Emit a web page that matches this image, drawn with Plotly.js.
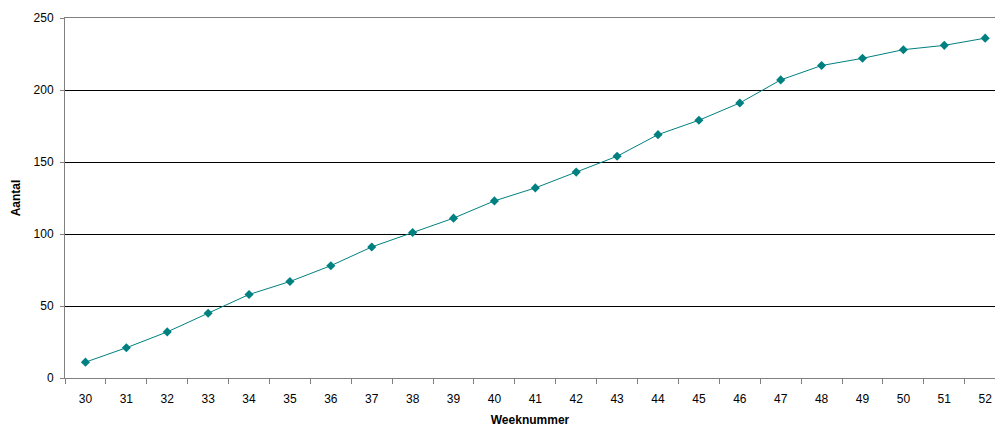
<!DOCTYPE html>
<html>
<head>
<meta charset="utf-8">
<script src="https://cdn.plot.ly/plotly-3.0.1.min.js"></script>
<style>html,body{margin:0;padding:0;background:#fff;overflow:hidden}</style>
</head>
<body>
<div id="chart" style="width:995px;height:440px"></div>
<script>
const weeks = ["30","31","32","33","34","35","36","37","38","39","40","41","42","43","44","45","46","47","48","49","50","51","52"];
const aantal = [11,21,32,45,58,67,78,91,101,111,123,132,143,154,169,179,191,207,217,222,228,231,236];
const yTicks = [0,50,100,150,200,250];

const trace = {
  x: weeks,
  y: aantal,
  type: 'scatter',
  mode: 'lines+markers',
  line: {color: '#008080', width: 1},
  marker: {symbol: 'diamond', size: 7, color: '#008080'},
  hoverinfo: 'x+y'
};

const layout = {
  width: 995,
  height: 440,
  margin: {l: 65, r: 0, t: 18, b: 62, pad: 0},
  paper_bgcolor: '#ffffff',
  plot_bgcolor: '#ffffff',
  showlegend: false,
  font: {family: 'Liberation Sans, Arial, sans-serif', size: 12, color: '#000'},
  xaxis: {
    type: 'category',
    range: [-0.5, 22.24],
    tickson: 'boundaries',
    ticks: 'outside',
    ticklen: 5,
    tickcolor: '#808080',
    ticklabelstandoff: 10,
    showline: true,
    mirror: true,
    linecolor: '#808080',
    linewidth: 1,
    showgrid: false,
    zeroline: false,
    tickfont: {size: 12},
    title: {text: '<b>Weeknummer</b>', font: {size: 12}, standoff: 10}
  },
  yaxis: {
    range: [0, 250],
    tickvals: yTicks,
    ticks: 'outside',
    ticklen: 4,
    tickcolor: '#808080',
    ticklabelstandoff: 4,
    showline: true,
    linecolor: '#808080',
    linewidth: 1,
    showgrid: true,
    gridcolor: '#000000',
    gridwidth: 1,
    zeroline: false,
    tickfont: {size: 12},
    title: {text: '<b>Aantal</b>', font: {size: 12}, standoff: 10}
  }
};

Plotly.newPlot('chart', [trace], layout, {staticPlot: true, displayModeBar: false});
</script>
</body>
</html>
